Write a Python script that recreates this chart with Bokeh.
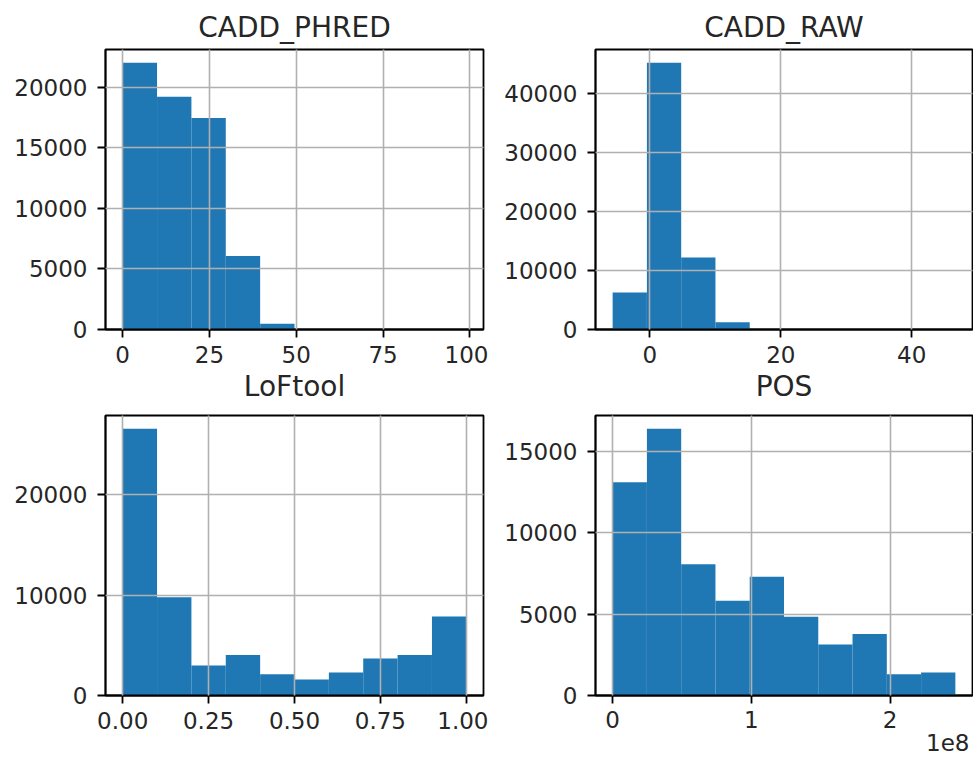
import numpy as np
from bokeh.plotting import figure
from bokeh.layouts import column, row
from bokeh.models import Range1d, FixedTicker, Title
from bokeh.embed import file_html
from bokeh.resources import INLINE

# ---------------- data ----------------
titles = ["CADD_PHRED", "CADD_RAW", "LoFtool", "POS"]

phred_min, phred_max = 0.0, 99.0
phred_counts = [22000, 19200, 17450, 6060, 470, 15, 4, 1, 0, 1]

raw_min, raw_max = -5.68, 46.67
raw_counts = [6270, 45250, 12200, 1240, 30, 5, 2, 0, 0, 1]

loftool_min, loftool_max = 0.0, 1.0
loftool_counts = [26600, 9800, 2990, 4050, 2120, 1600, 2290, 3690, 4050, 7870]

pos_min, pos_max = 0.0, 2.47e8
pos_counts = [13120, 16400, 8070, 5830, 7300, 4840, 3130, 3780, 1310, 1410]

phred_xticks = [0, 25, 50, 75, 100]
phred_yticks = [0, 5000, 10000, 15000, 20000]
raw_xticks = [0, 20, 40]
raw_yticks = [0, 10000, 20000, 30000, 40000]
loftool_xticks = [0, 0.25, 0.5, 0.75, 1.0]
loftool_xlabels = ["0.00", "0.25", "0.50", "0.75", "1.00"]
loftool_yticks = [0, 10000, 20000]
pos_xticks = [0, 1e8, 2e8]
pos_xlabels = ["0", "1", "2"]
pos_yticks = [0, 5000, 10000, 15000]
pos_offset_text = "1e8"

BAR = "#1f77b4"
FONT = "DejaVu Sans"
TXT = "#262626"
TITLE_SIZE = "28px"
TICK_SIZE = "23px"


def make_title(text, **kw):
    return Title(text=text, text_font=FONT, text_font_size=TITLE_SIZE,
                 text_font_style="normal", text_color=TXT, align="center", **kw)


def hist_panel(vmin, vmax, counts, xticks, yticks, xlabels=None,
               bl=105, br=5, bt=49, bb=45, fw=378, fh=280):
    edges = np.linspace(vmin, vmax, len(counts) + 1)
    span = vmax - vmin
    ymax = 1.05 * max(counts)
    p = figure(frame_width=fw, frame_height=fh,
               min_border_left=bl, min_border_right=br,
               min_border_top=bt, min_border_bottom=bb,
               x_range=Range1d(vmin - 0.05 * span, vmax + 0.05 * span),
               y_range=Range1d(0, ymax),
               output_backend="svg", toolbar_location=None)
    p.quad(left=edges[:-1], right=edges[1:], bottom=0, top=counts,
           fill_color=BAR, line_color=None)

    p.xaxis.ticker = FixedTicker(ticks=xticks)
    p.yaxis.ticker = FixedTicker(ticks=yticks)
    if xlabels is not None:
        p.xaxis.major_label_overrides = {t: l for t, l in zip(xticks, xlabels)}
    for ax in (p.xaxis, p.yaxis):
        ax.major_label_text_font = FONT
        ax.major_label_text_font_size = TICK_SIZE
        ax.major_label_text_color = TXT
        ax.major_tick_out = 8
        ax.major_tick_in = 0
        ax.minor_tick_out = 0
        ax.minor_tick_in = 0
        ax.major_tick_line_color = "black"
        ax.major_tick_line_width = 1.8
        ax.axis_line_color = "black"
        ax.axis_line_width = 1.8
    p.xaxis.major_label_standoff = 8
    p.yaxis.major_label_standoff = 10

    for g in (p.xgrid, p.ygrid):
        g.grid_line_color = "#b0b0b0"
        g.grid_line_width = 1.6
        g.level = "overlay"
    p.xgrid.ticker = FixedTicker(ticks=xticks)
    p.ygrid.ticker = FixedTicker(ticks=yticks)

    p.outline_line_color = "black"
    p.outline_line_width = 1.8
    p.outline_line_alpha = 1.0
    p.background_fill_color = "white"
    p.border_fill_color = "white"
    return p


# top row: own titles above; the bottom-row subplot titles sit in the gap below
p1 = hist_panel(phred_min, phred_max, phred_counts, phred_xticks, phred_yticks,
                bb=84)
p2 = hist_panel(raw_min, raw_max, raw_counts, raw_xticks, raw_yticks,
                bl=107, br=1, fw=377, bb=84)
p3 = hist_panel(loftool_min, loftool_max, loftool_counts,
                loftool_xticks, loftool_yticks, xlabels=loftool_xlabels,
                bt=2, bb=62)
p4 = hist_panel(pos_min, pos_max, pos_counts,
                pos_xticks, pos_yticks, xlabels=pos_xlabels,
                bl=107, br=1, fw=377, bt=2, bb=62)

p1.add_layout(make_title(titles[0], standoff=8, vertical_align="top"), "above")
p2.add_layout(make_title(titles[1], standoff=8, vertical_align="top"), "above")
p1.add_layout(make_title(titles[2], standoff=8, vertical_align="top"), "below")
p2.add_layout(make_title(titles[3], standoff=8, vertical_align="top"), "below")

# matplotlib-style offset text under the POS x axis, right-aligned
p4.xaxis.major_label_standoff = 7
p4.add_layout(Title(text=pos_offset_text, text_font=FONT, text_font_size=TICK_SIZE,
                    text_font_style="normal", text_color=TXT, align="right",
                    offset=3, standoff=2, vertical_align="bottom"), "below")

layout = column(row(p1, p2), row(p3, p4))

open("out.html", "w").write(file_html(layout, INLINE))
